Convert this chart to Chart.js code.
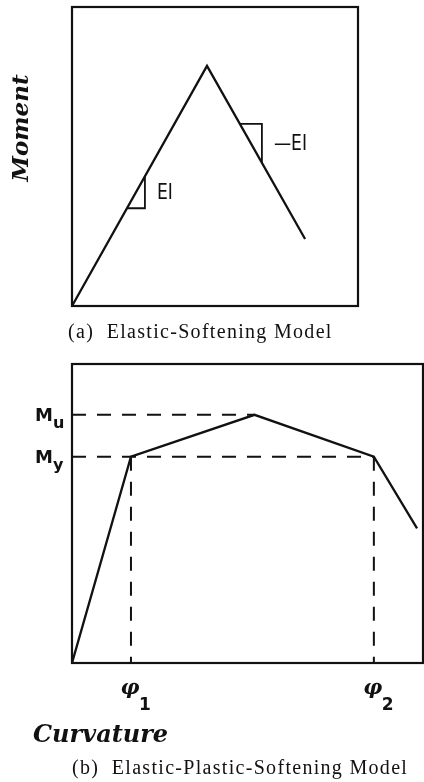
<!DOCTYPE html>
<html>
<head>
<meta charset="utf-8">
<script src="https://cdn.jsdelivr.net/npm/chart.js@4"></script>
<style>
  body { margin: 0; background: #fff; }
  canvas { display: block; }
</style>
</head>
<body>
<canvas id="softChart" width="424" height="350"></canvas>
<canvas id="plasticChart" width="424" height="432"></canvas>
<script>
// (a) elastic-softening: corner points of the moment-curvature curve
const softCurvature = [0, 4.72, 8.15];
const softMoment = [0, 8.03, 2.24];
// slope triangles on the loading and softening branches
const eiTriCurvature = [1.92, 2.55, 2.55];
const eiTriMoment = [3.27, 3.27, 4.34];
const negEiTriCurvature = [5.87, 6.64, 6.64];
const negEiTriMoment = [6.09, 6.09, 4.79];
const slopeLabels = ['EI', '\u2014EI'];

// (b) elastic-plastic-softening
const epsCurvature = [0, 1.68, 5.2, 8.6, 9.83];
const epsMoment = [0, 6.9, 8.3, 6.9, 4.5];
const curvatureTicks = [1.68, 8.6];      // phi1, phi2
const curvatureTickSubs = ['1', '2'];
const momentTicks = [8.3, 6.9];          // Mu, My
const momentTickSubs = ['u', 'y'];

const captions = ['(a)  Elastic-Softening Model', '(b)  Elastic-Plastic-Softening Model'];

const INK = '#111';
const pts = (xs, ys) => xs.map((x, i) => ({ x, y: ys[i] }));

function solid(data, width) {
  return { data, borderColor: INK, borderWidth: width, pointRadius: 0, tension: 0, fill: false };
}
function dashed(data) {
  return { data, borderColor: INK, borderWidth: 2, borderDash: [14, 11], pointRadius: 0, tension: 0, fill: false };
}

// frame round the plot area
const boxPlugin = {
  id: 'box',
  beforeDatasetsDraw(chart) {
    const { ctx, chartArea: a } = chart;
    ctx.save();
    ctx.strokeStyle = INK;
    ctx.lineWidth = 2.2;
    ctx.strokeRect(a.left, a.top, a.right - a.left, a.bottom - a.top);
    ctx.restore();
  }
};

function caption(ctx, text, x, y) {
  ctx.font = '20px "Liberation Serif", "Times New Roman", serif';
  ctx.letterSpacing = '1.3px';
  ctx.textAlign = 'left';
  ctx.textBaseline = 'alphabetic';
  ctx.fillText(text, x, y);
  ctx.letterSpacing = '0px';
}

const softLabels = {
  id: 'softLabels',
  afterDraw(chart) {
    const { ctx, chartArea: a, scales: { x, y } } = chart;
    ctx.save();
    ctx.fillStyle = INK;

    ctx.save();
    ctx.font = 'bold italic 23px "DejaVu Serif", serif';
    ctx.translate(a.left - 50, a.top + 121);
    ctx.rotate(-Math.PI / 2);
    ctx.textAlign = 'center';
    ctx.textBaseline = 'middle';
    ctx.fillText('Moment', 0, 0);
    ctx.restore();

    // narrow slope labels next to each triangle
    ctx.font = '22px "DejaVu Sans", sans-serif';
    ctx.textAlign = 'left';
    ctx.textBaseline = 'middle';
    const tris = [[eiTriCurvature, eiTriMoment], [negEiTriCurvature, negEiTriMoment]];
    tris.forEach(([cx, my], i) => {
      const px = x.getPixelForValue(cx[2]) + 12;
      const py = (y.getPixelForValue(my[1]) + y.getPixelForValue(my[2])) / 2;
      ctx.save();
      ctx.translate(px, py + 1);
      ctx.scale(0.78, 1);
      ctx.fillText(slopeLabels[i], 0, 0);
      ctx.restore();
    });

    caption(ctx, captions[0], 68, 338);
    ctx.restore();
  }
};

const plasticLabels = {
  id: 'plasticLabels',
  afterDraw(chart) {
    const { ctx, chartArea: a, scales: { x, y } } = chart;
    ctx.save();
    ctx.fillStyle = INK;
    ctx.textAlign = 'left';
    ctx.textBaseline = 'alphabetic';

    // moment ticks with subscripts
    momentTicks.forEach((m, i) => {
      const py = y.getPixelForValue(m);
      ctx.font = 'bold 18px "DejaVu Sans", sans-serif';
      ctx.fillText('M', a.left - 37, py + 6.5);
      ctx.font = 'bold 16px "DejaVu Sans", sans-serif';
      ctx.fillText(momentTickSubs[i], a.left - 19, py + 13);
    });

    // curvature ticks with subscripts
    curvatureTicks.forEach((c, i) => {
      const px = x.getPixelForValue(c);
      ctx.font = 'bold italic 21px "DejaVu Serif", serif';
      ctx.textAlign = 'center';
      ctx.fillText('\u03c6', px - 1, a.bottom + 31);
      ctx.font = 'bold 17px "DejaVu Sans", sans-serif';
      ctx.textAlign = 'left';
      ctx.fillText(curvatureTickSubs[i], px + 8, a.bottom + 47);
    });

    ctx.font = 'bold italic 24px "DejaVu Serif", serif';
    ctx.fillText('Curvature', 33, 392);

    caption(ctx, captions[1], 72, 424);
    ctx.restore();
  }
};

new Chart(document.getElementById('softChart'), {
  type: 'line',
  data: {
    datasets: [
      solid(pts(softCurvature, softMoment), 2.3),
      solid(pts(eiTriCurvature, eiTriMoment), 1.8),
      solid(pts(negEiTriCurvature, negEiTriMoment), 1.8)
    ]
  },
  options: {
    responsive: false,
    animation: false,
    layout: { padding: { left: 72, top: 7, right: 66, bottom: 44 } },
    plugins: { legend: { display: false }, tooltip: { enabled: false } },
    scales: {
      x: { type: 'linear', min: 0, max: 10, display: false },
      y: { type: 'linear', min: 0, max: 10, display: false }
    }
  },
  plugins: [boxPlugin, softLabels]
});

new Chart(document.getElementById('plasticChart'), {
  type: 'line',
  data: {
    datasets: [
      solid(pts(epsCurvature, epsMoment), 2.3),
      dashed([{ x: 0, y: momentTicks[0] }, { x: epsCurvature[2], y: momentTicks[0] }]),
      dashed([{ x: 0, y: momentTicks[1] }, { x: curvatureTicks[1], y: momentTicks[1] }]),
      dashed([{ x: curvatureTicks[0], y: momentTicks[1] }, { x: curvatureTicks[0], y: 0 }]),
      dashed([{ x: curvatureTicks[1], y: momentTicks[1] }, { x: curvatureTicks[1], y: 0 }])
    ]
  },
  options: {
    responsive: false,
    animation: false,
    layout: { padding: { left: 72, top: 14, right: 1, bottom: 119 } },
    plugins: { legend: { display: false }, tooltip: { enabled: false } },
    scales: {
      x: { type: 'linear', min: 0, max: 10, display: false },
      y: { type: 'linear', min: 0, max: 10, display: false }
    }
  },
  plugins: [boxPlugin, plasticLabels]
});
</script>
</body>
</html>
